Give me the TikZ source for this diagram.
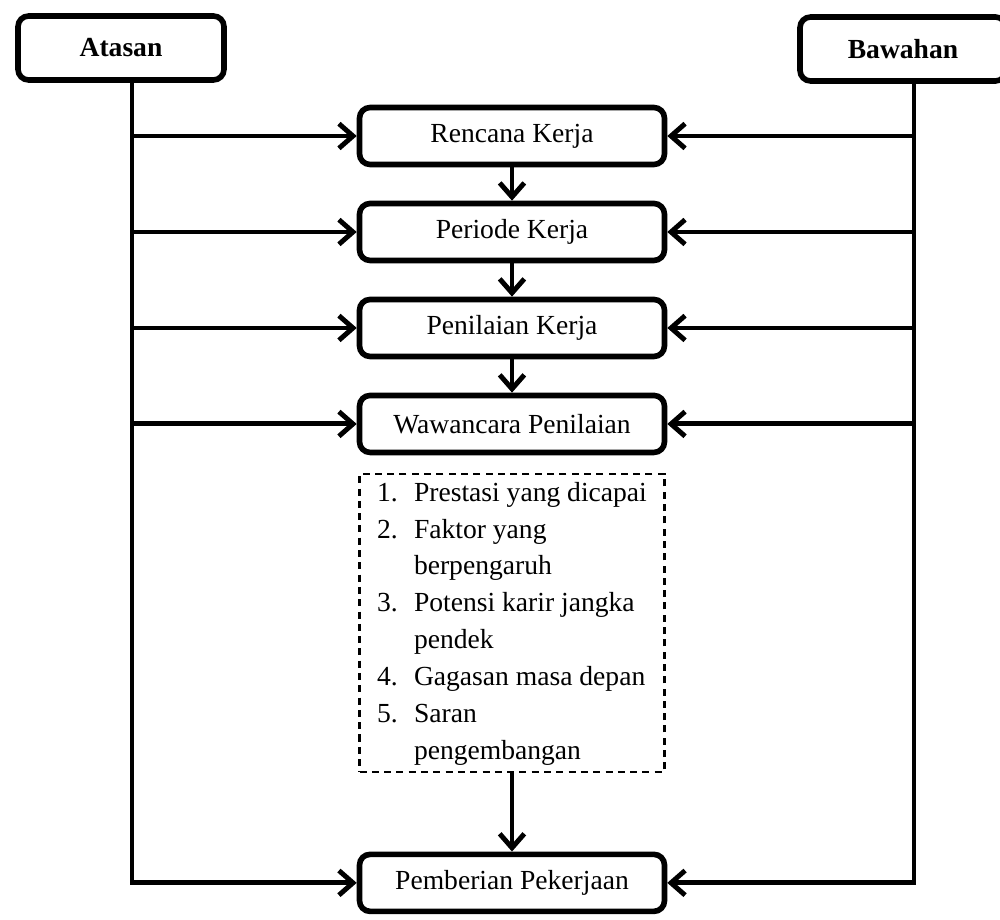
\documentclass[tikz,border=0pt]{standalone}
\usepackage{fontspec}
\setmainfont{Liberation Serif}
\usetikzlibrary{positioning,arrows.meta}
\newcommand{\ukuran}{\fontsize{15.7pt}{21pt}\selectfont}

\begin{document}
\begin{tikzpicture}[x=0.02cm,y=-0.02cm,node distance=1.92cm,
    every node/.style={on grid,font=\ukuran},
    kotak/.style={draw,rounded corners=6pt,line width=3.2pt,minimum width=6.1cm,minimum height=1.14cm},
    pihak/.style={kotak,minimum width=4.12cm,minimum height=1.28cm,font=\ukuran\bfseries},
    daftar/.style={draw,line width=1.2pt,dash pattern=on 4pt off 3pt,minimum width=6.1cm,minimum height=5.96cm,inner sep=0pt},
    garis/.style={line width=2.8pt},
    panah/.style={garis,-{Straight Barb[length=8pt,width=14pt]}}]
    \useasboundingbox (0,0) rectangle (1000,919);
    \node[pihak] (atasan) at (121,48) {Atasan};
    \node[pihak] (bawahan) at (903,49) {Bawahan};
    \node[kotak] (rencana) at (512,136) {Rencana Kerja};
    \node[kotak,below of=rencana] (periode) {Periode Kerja};
    \node[kotak,below of=periode] (penilaian) {Penilaian Kerja};
    \node[kotak,below of=penilaian] (wawancara) {Wawancara Penilaian};
    \node[daftar,below of=wawancara,node distance=3.98cm] (hasil) {\begin{tabular}{@{}l@{}}
      \makebox[21pt][l]{1.}Prestasi yang dicapai\\
      \makebox[21pt][l]{2.}Faktor yang\\
      \makebox[21pt][l]{}berpengaruh\\
      \makebox[21pt][l]{3.}Potensi karir jangka\\
      \makebox[21pt][l]{}pendek\\
      \makebox[21pt][l]{4.}Gagasan masa depan\\
      \makebox[21pt][l]{5.}Saran\\
      \makebox[21pt][l]{}pengembangan
    \end{tabular}};
    \node[kotak,below of=hasil,node distance=5.2cm] (pemberian) {Pemberian Pekerjaan};
    \coordinate (kiri) at ([xshift=0.22cm]atasan.south);
    \coordinate (kanan) at ([xshift=0.22cm]bawahan.south);
    \draw[panah] (rencana) -- (periode);
    \draw[panah] (periode) -- (penilaian);
    \draw[panah] (penilaian) -- (wawancara);
    \draw[panah] (hasil) -- (pemberian);
    \draw[panah] (kiri) |- (pemberian.west);
    \draw[panah] (kanan) |- (pemberian.east);
    \foreach \n in {rencana,periode,penilaian,wawancara} {
      \draw[panah] (kiri |- \n) -- (\n.west);
      \draw[panah] (kanan |- \n) -- (\n.east);
    }
  \end{tikzpicture}
\end{document}
